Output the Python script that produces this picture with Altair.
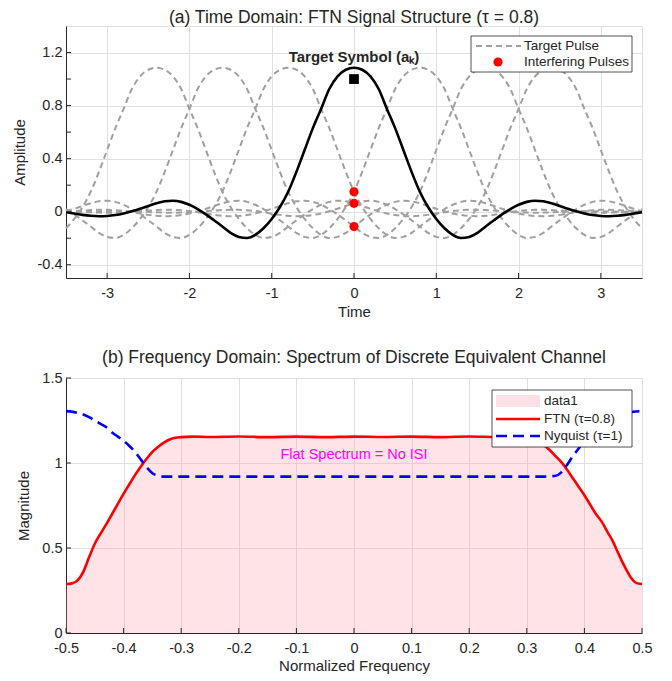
import altair as alt
import pandas as pd

FONT = "Arial, Liberation Sans, Helvetica, sans-serif"
TXT = "#262626"
GRID = "#e0e0e0"

# ---------------- data: time domain ----------------
# pulse shape h(|t|) read from the black curve, sampled every 0.1
pulse_tau = [round(0.1 * i, 1) for i in range(61)]
pulse_amp = [1.085, 1.07, 1.02, 0.925, 0.775, 0.63, 0.465, 0.30, 0.15, 0.035,
             -0.055, -0.125, -0.175, -0.198, -0.19, -0.16, -0.112, -0.065, -0.02, 0.02,
             0.052, 0.074, 0.083, 0.078, 0.063, 0.043, 0.022, 0.003, -0.013, -0.025,
             -0.032, -0.034, -0.031, -0.024, -0.014, -0.004, 0.005, 0.011, 0.014, 0.014,
             0.012, 0.008, 0.004, -0.001, -0.005, -0.007, -0.008, -0.007, -0.005, -0.002,
             0.001, 0.003, 0.004, 0.004, 0.003, 0.002, 0.0, -0.001, -0.002, -0.002, -0.001]
gray_shifts = [-2.4, -1.6, -0.8, 0.8, 1.6, 2.4]
interf_values = [0.15, 0.063, -0.112]
target_symbol = [1.0]
time_ticks = [-3, -2, -1, 0, 1, 2, 3]
amp_ticks = [-0.4, -0.2, 0, 0.2, 0.4, 0.6, 0.8, 1, 1.2]

# ---------------- data: frequency domain ----------------
freq = [-0.5, -0.49, -0.48, -0.47, -0.46, -0.45, -0.44, -0.43, -0.42, -0.41, -0.40,
        -0.39, -0.38, -0.37, -0.36, -0.35, -0.34, -0.33, -0.32, -0.31, -0.30, -0.28,
        -0.25, -0.2, -0.15, -0.1, -0.05, 0.0, 0.05, 0.1, 0.15, 0.2, 0.25, 0.28,
        0.30, 0.31, 0.32, 0.33, 0.34, 0.35, 0.36, 0.37, 0.38, 0.39, 0.40,
        0.41, 0.42, 0.43, 0.44, 0.45, 0.46, 0.47, 0.48, 0.49, 0.5]
ftn_mag = [0.288, 0.292, 0.31, 0.36, 0.445, 0.525, 0.585, 0.64, 0.70, 0.76, 0.82,
           0.875, 0.93, 0.98, 1.025, 1.065, 1.095, 1.12, 1.138, 1.148, 1.152, 1.155,
           1.153, 1.156, 1.152, 1.155, 1.152, 1.155, 1.153, 1.155, 1.152, 1.156, 1.153, 1.155,
           1.152, 1.145, 1.13, 1.105, 1.075, 1.04, 1.005, 0.96, 0.91, 0.86, 0.81,
           0.755, 0.70, 0.655, 0.595, 0.535, 0.46, 0.39, 0.33, 0.295, 0.288]
nyq_mag = [1.305, 1.302, 1.295, 1.285, 1.27, 1.25, 1.23, 1.21, 1.18, 1.155, 1.13,
           1.10, 1.065, 1.02, 0.975, 0.94, 0.925, 0.92, 0.92, 0.92, 0.92, 0.92,
           0.92, 0.92, 0.92, 0.92, 0.92, 0.92, 0.92, 0.92, 0.92, 0.92, 0.92, 0.92,
           0.92, 0.92, 0.92, 0.92, 0.922, 0.925, 0.945, 0.99, 1.04, 1.085, 1.13,
           1.16, 1.19, 1.215, 1.24, 1.26, 1.275, 1.29, 1.298, 1.303, 1.305]
freq_ticks = [-0.5, -0.4, -0.3, -0.2, -0.1, 0, 0.1, 0.2, 0.3, 0.4, 0.5]
mag_ticks = [0, 0.5, 1, 1.5]

# ---------------- tables ----------------
half = pd.DataFrame({"tau": pulse_tau, "amp": pulse_amp})
full = pd.concat([half.assign(tau=-half["tau"]).iloc[::-1], half.iloc[1:]], ignore_index=True)

gray_rows = []
for s in gray_shifts:
    d = full.assign(t=(full["tau"] + s).round(3), pulse=str(s))
    gray_rows.append(d[(d["t"] >= -3.5) & (d["t"] <= 3.5)])
gray_df = pd.concat(gray_rows, ignore_index=True)
black_df = full.assign(t=full["tau"])
black_df = black_df[(black_df["t"] >= -3.5) & (black_df["t"] <= 3.5)]
dots_df = pd.DataFrame({"t": [0] * len(interf_values), "amp": interf_values})
sq_df = pd.DataFrame({"t": [0], "amp": target_symbol})
ann_df = pd.DataFrame({"t": [0], "amp": [1.17], "label": ["Target Symbol (a\u2096)"]})

spec_df = pd.DataFrame({"f": freq, "ftn": ftn_mag, "nyq": nyq_mag})
flat_df = pd.DataFrame({"f": [0], "mag": [1.05], "label": ["Flat Spectrum = No ISI"]})

W = 576
H1 = 252
H2 = 255


def axis(values, title, **kw):
    return alt.Axis(values=values, title=title, grid=True, gridColor=GRID, gridWidth=1,
                    ticks=False, domainColor=TXT, domainWidth=1, labelColor=TXT,
                    labelFontSize=14.5, labelFont=FONT, titleFont=FONT, titleFontSize=15,
                    titleFontWeight="normal", titleColor=TXT, labelOverlap=False,
                    labelFlush=False, labelBound=False,
                    labelExpr="'' + datum.value", **kw)


# ---------------- top panel ----------------
xs_t = alt.Scale(domain=[-3.5, 3.5], nice=False, zero=False)
ys_t = alt.Scale(domain=[-0.5, 1.4], nice=False, zero=False)

gray = alt.Chart(gray_df).mark_line(color="#a0a0a0", strokeWidth=2, strokeDash=[6, 4],
                                    interpolate="monotone").encode(
    x=alt.X("t:Q", scale=xs_t, axis=axis(time_ticks, "Time", labelPadding=8, titlePadding=5)),
    y=alt.Y("amp:Q", scale=ys_t, axis=axis(amp_ticks, "Amplitude", labelPadding=4,
                                           titlePadding=8, minExtent=31, maxExtent=31)),
    detail="pulse:N")
black = alt.Chart(black_df).mark_line(color="black", strokeWidth=2.6, interpolate="monotone").encode(
    x=alt.X("t:Q", scale=xs_t), y=alt.Y("amp:Q", scale=ys_t))
dots = alt.Chart(dots_df).mark_circle(color="#ff0000", size=85, opacity=1).encode(
    x=alt.X("t:Q", scale=xs_t), y=alt.Y("amp:Q", scale=ys_t))
sq = alt.Chart(sq_df).mark_square(color="black", size=95, opacity=1).encode(
    x=alt.X("t:Q", scale=xs_t), y=alt.Y("amp:Q", scale=ys_t))
ann = alt.Chart(ann_df).mark_text(font=FONT, fontSize=15, fontWeight="bold", color=TXT,
                                  baseline="middle").encode(
    x=alt.X("t:Q", scale=xs_t), y=alt.Y("amp:Q", scale=ys_t), text="label:N")
xt_t = alt.Chart(pd.DataFrame({"v": time_ticks})).mark_rule(color=TXT, strokeWidth=1).encode(
    x=alt.X("v:Q", scale=xs_t), y=alt.value(H1), y2=alt.value(H1 - 5))
yt_t = alt.Chart(pd.DataFrame({"v": amp_ticks})).mark_rule(color=TXT, strokeWidth=1).encode(
    y=alt.Y("v:Q", scale=ys_t), x=alt.value(0), x2=alt.value(5))

one = pd.DataFrame({"a": [0]})
leg1_box = alt.Chart(one).mark_rect(fill="white", stroke=TXT, strokeWidth=0.8).encode(
    x=alt.value(405), x2=alt.value(566), y=alt.value(10), y2=alt.value(46))
leg1_line = alt.Chart(one).mark_rule(color="#a0a0a0", strokeWidth=2, strokeDash=[6, 4]).encode(
    x=alt.value(410), x2=alt.value(455), y=alt.value(20))
leg1_dot = alt.Chart(one).mark_circle(color="#ff0000", size=85, opacity=1).encode(
    x=alt.value(432), y=alt.value(36))
leg1_t1 = alt.Chart(one).mark_text(text="Target Pulse", font=FONT, fontSize=13.5,
                                   color=TXT, align="left", baseline="middle").encode(
    x=alt.value(458), y=alt.value(20))
leg1_t2 = alt.Chart(one).mark_text(text="Interfering Pulses", font=FONT, fontSize=13.5,
                                   color=TXT, align="left", baseline="middle").encode(
    x=alt.value(458), y=alt.value(36))

top = alt.layer(gray, black, dots, sq, ann, xt_t, yt_t,
                leg1_box, leg1_line, leg1_dot, leg1_t1, leg1_t2).properties(
    width=W, height=H1,
    title=alt.TitleParams("(a) Time Domain: FTN Signal Structure (\u03c4 = 0.8)", font=FONT,
                          fontSize=17.5, fontWeight="normal", color=TXT, anchor="middle", offset=0))

# ---------------- bottom panel ----------------
xs_f = alt.Scale(domain=[-0.5, 0.5], nice=False, zero=False)
ys_f = alt.Scale(domain=[0, 1.5], nice=False, zero=False)

area = alt.Chart(spec_df).mark_area(color="#ff8fa0", opacity=0.25, interpolate="monotone").encode(
    x=alt.X("f:Q", scale=xs_f, axis=axis(freq_ticks, "Normalized Frequency", labelPadding=8, titlePadding=4)),
    y=alt.Y("ftn:Q", scale=ys_f, axis=axis(mag_ticks, "Magnitude", labelPadding=4,
                                           titlePadding=4, minExtent=31, maxExtent=31)))
red = alt.Chart(spec_df).mark_line(color="#ff0000", strokeWidth=2.6, interpolate="monotone").encode(
    x=alt.X("f:Q", scale=xs_f), y=alt.Y("ftn:Q", scale=ys_f))
blue = alt.Chart(spec_df).mark_line(color="#0000ff", strokeWidth=2.6, strokeDash=[11, 6],
                                    interpolate="monotone").encode(
    x=alt.X("f:Q", scale=xs_f), y=alt.Y("nyq:Q", scale=ys_f))
flat = alt.Chart(flat_df).mark_text(font=FONT, fontSize=14.5, color="#ff00ff", baseline="middle").encode(
    x=alt.X("f:Q", scale=xs_f), y=alt.Y("mag:Q", scale=ys_f), text="label:N")
xt_f = alt.Chart(pd.DataFrame({"v": freq_ticks})).mark_rule(color=TXT, strokeWidth=1).encode(
    x=alt.X("v:Q", scale=xs_f), y=alt.value(H2), y2=alt.value(H2 - 5))
yt_f = alt.Chart(pd.DataFrame({"v": mag_ticks})).mark_rule(color=TXT, strokeWidth=1).encode(
    y=alt.Y("v:Q", scale=ys_f), x=alt.value(0), x2=alt.value(5))

leg2_box = alt.Chart(one).mark_rect(fill="white", stroke=TXT, strokeWidth=0.8).encode(
    x=alt.value(426), x2=alt.value(566), y=alt.value(12), y2=alt.value(69))
leg2_patch = alt.Chart(one).mark_rect(fill="#fde0e4").encode(
    x=alt.value(430), x2=alt.value(474), y=alt.value(17), y2=alt.value(29))
leg2_red = alt.Chart(one).mark_rule(color="#ff0000", strokeWidth=2.6).encode(
    x=alt.value(430), x2=alt.value(474), y=alt.value(41))
leg2_blue = alt.Chart(one).mark_rule(color="#0000ff", strokeWidth=2.6, strokeDash=[11, 6]).encode(
    x=alt.value(430), x2=alt.value(474), y=alt.value(58))
leg2_texts = []
for lbl, yy in [("data1", 23), ("FTN (\u03c4=0.8)", 41), ("Nyquist (\u03c4=1)", 58)]:
    leg2_texts.append(alt.Chart(one).mark_text(
        text=lbl, font=FONT, fontSize=13.5, color=TXT, align="left", baseline="middle").encode(
        x=alt.value(478), y=alt.value(yy)))

bottom = alt.layer(area, red, blue, flat, xt_f, yt_f,
                   leg2_box, leg2_patch, leg2_red, leg2_blue, *leg2_texts).properties(
    width=W, height=H2,
    title=alt.TitleParams("(b) Frequency Domain: Spectrum of Discrete Equivalent Channel", font=FONT,
                          fontSize=17.5, fontWeight="normal", color=TXT, anchor="middle", offset=4))

chart = alt.vconcat(top, bottom, spacing=100, bounds="flush").properties(
    padding={"left": 3, "top": 0, "right": 0, "bottom": 0}
).configure_view(stroke=None).configure(font=FONT)

chart.save("out.html", embed_options={"renderer": "svg", "actions": False})
